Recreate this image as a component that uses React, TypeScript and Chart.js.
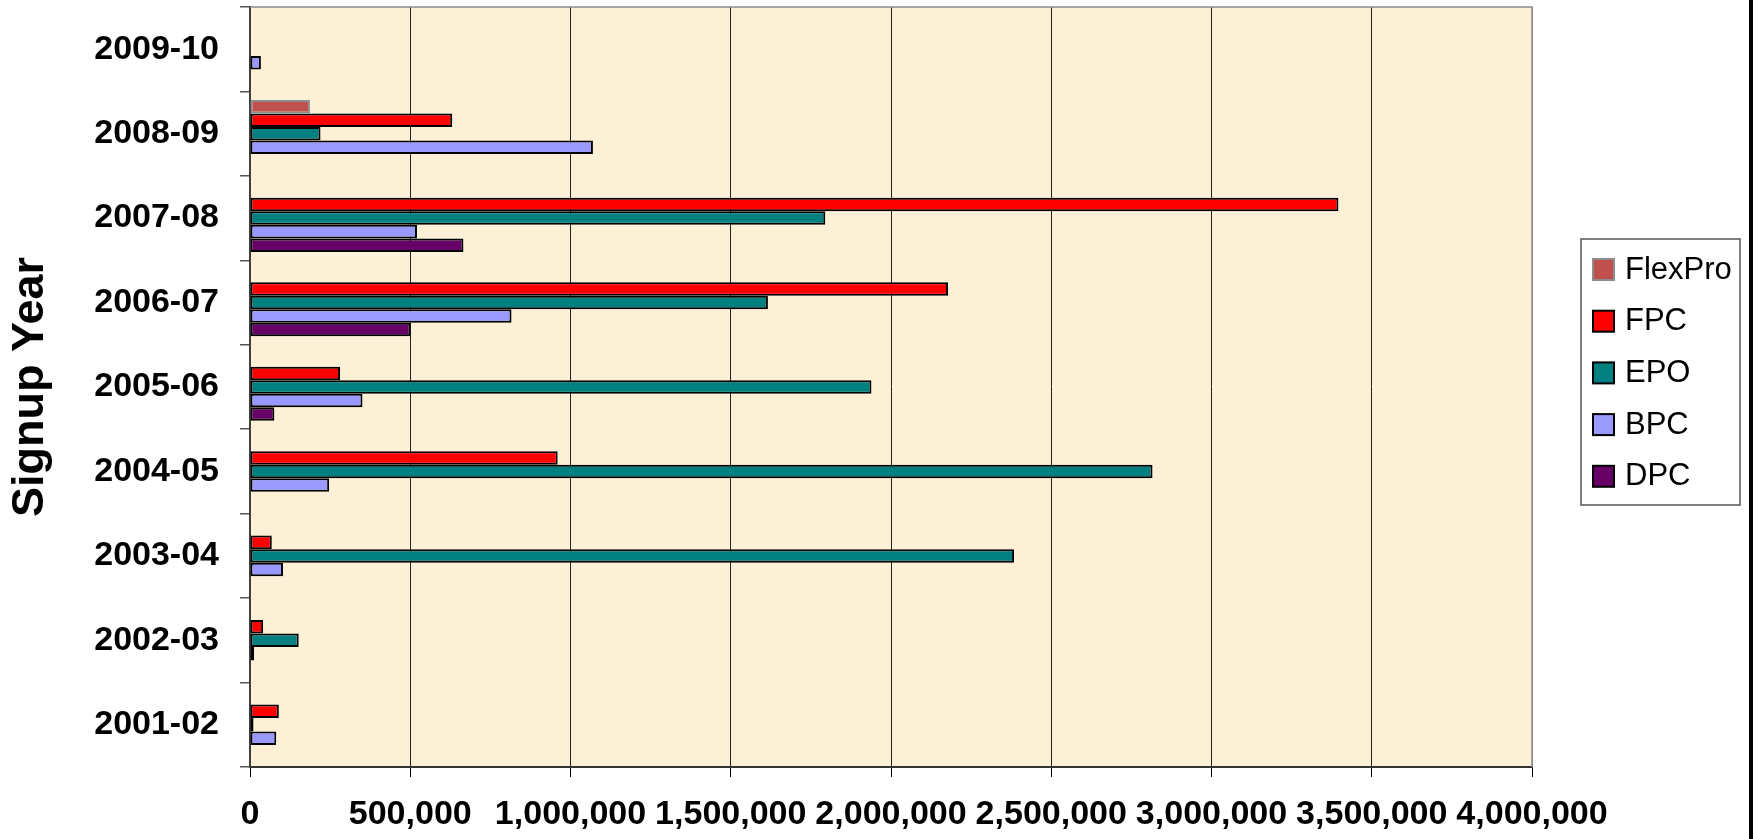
import React, { useEffect, useRef } from 'react';
import { Chart, registerables } from 'chart.js';

Chart.register(...registerables);

// ---- data ----
const categories = ['2009-10', '2008-09', '2007-08', '2006-07', '2005-06', '2004-05', '2003-04', '2002-03', '2001-02'];
const seriesNames = ['FlexPro', 'FPC', 'EPO', 'BPC', 'DPC'];
const flexProValues = [null, 187000, null, null, null, null, null, null, null];
const fpcValues = [null, 631000, 3396000, 2178000, 281000, 960000, 68000, 41000, 90000];
const epoValues = [null, 220000, 1795000, 1616000, 1939000, 2816000, 2384000, 152000, 11000];
const bpcValues = [34000, 1070000, 521000, 816000, 351000, 247000, 103000, 13000, 82000];
const dpcValues = [null, null, 666000, 501000, 76000, null, null, null, null];
const xMin = 0;
const xMax = 4000000;
const xStep = 500000;
const yTitle = 'Signup Year';

// ---- styles ----
const fills = ['#C0504D', '#FF0000', '#008080', '#9999FF', '#660066'];
const borders = ['#8C8C8C', '#000000', '#000000', '#000000', '#000000'];
const FONT = "'Liberation Sans', Arial, Helvetica, sans-serif";

const bgPlugin = {
  id: 'plotBg',
  beforeDraw(chart: any) {
    const { ctx, chartArea: a } = chart;
    ctx.save();
    ctx.fillStyle = '#ffffff';
    ctx.fillRect(0, 0, chart.width, chart.height);
    ctx.fillStyle = '#FCF0D6';
    ctx.fillRect(a.left, a.top, a.right - a.left, a.bottom - a.top);
    ctx.restore();
  },
  beforeDatasetsDraw(chart: any) {
    const { ctx, chartArea: a } = chart;
    ctx.save();
    ctx.strokeStyle = '#8A8A8A';
    ctx.lineWidth = 1.5;
    ctx.beginPath();
    ctx.moveTo(a.left, a.top);
    ctx.lineTo(a.right, a.top);
    ctx.lineTo(a.right, a.bottom);
    ctx.stroke();
    ctx.restore();
  },
  afterDraw(chart: any) {
    const { ctx } = chart;
    ctx.save();
    // legend box
    const x0 = 1581, y0 = 239, w = 159, h = 266;
    ctx.fillStyle = '#ffffff';
    ctx.fillRect(x0, y0, w, h);
    ctx.strokeStyle = '#555555';
    ctx.lineWidth = 1.5;
    ctx.strokeRect(x0, y0, w, h);
    chart.data.datasets.forEach((ds: any, i: number) => {
      const cy = y0 + 30 + i * 51.7;
      ctx.fillStyle = ds.backgroundColor;
      ctx.fillRect(x0 + 12, cy - 10, 21, 21);
      ctx.strokeStyle = ds.borderColor;
      ctx.lineWidth = 2;
      ctx.strokeRect(x0 + 12, cy - 10, 21, 21);
      ctx.fillStyle = '#000000';
      ctx.font = `31px ${FONT}`;
      ctx.textAlign = 'left';
      ctx.textBaseline = 'middle';
      ctx.fillText(ds.label, x0 + 44, cy + 1);
    });
    // right edge strip
    ctx.fillStyle = '#000000';
    ctx.fillRect(chart.width - 4, 0, 4, chart.height);
    ctx.restore();
  },
};

export default function App() {
  const ref = useRef<HTMLCanvasElement | null>(null);

  useEffect(() => {
    document.body.style.margin = '0';
    const values = [flexProValues, fpcValues, epoValues, bpcValues, dpcValues];
    const chart = new Chart(ref.current as HTMLCanvasElement, {
      type: 'bar',
      data: {
        labels: categories,
        datasets: seriesNames.map((name, i) => ({
          label: name,
          data: values[i] as any,
          backgroundColor: fills[i],
          borderColor: borders[i],
          borderWidth: 2,
          borderSkipped: false,
          categoryPercentage: 0.8,
          barPercentage: 1.0,
        })),
      },
      options: {
        indexAxis: 'y',
        animation: false,
        responsive: false,
        devicePixelRatio: 1,
        layout: { padding: { top: 7, right: 221, bottom: 0, left: 0 } },
        plugins: {
          legend: { display: false },
          tooltip: { enabled: false },
        },
        scales: {
          x: {
            type: 'linear',
            min: xMin,
            max: xMax,
            grid: {
              color: (c: any) => (c.tick && c.tick.value === xMax ? '#8A8A8A' : '#222222'),
              lineWidth: 1,
              tickColor: '#000000',
              tickLength: 10,
            },
            border: { display: true, color: '#333333', width: 2 },
            ticks: {
              stepSize: xStep,
              padding: 17,
              maxRotation: 0,
              minRotation: 0,
              autoSkip: false,
              color: '#000000',
              font: { family: FONT, size: 34, weight: 'bold' },
              callback: (v: any) => Number(v).toLocaleString('en-US'),
            },
            afterFit: (s: any) => {
              s.height = 72;
              s.paddingLeft = 0;
              s.paddingRight = 0;
            },
          },
          y: {
            type: 'category',
            grid: {
              display: true,
              drawOnChartArea: false,
              drawTicks: true,
              tickLength: 10,
              color: '#555555',
              lineWidth: 1.5,
              offset: true,
            },
            border: { display: true, color: '#404040', width: 2 },
            ticks: {
              padding: 21,
              color: '#000000',
              font: { family: FONT, size: 34, weight: 'bold' },
            },
            title: {
              display: true,
              text: yTitle,
              color: '#000000',
              font: { family: FONT, size: 45, weight: 'bold' },
              padding: { top: 4, bottom: 0 },
            },
            afterFit: (s: any) => {
              s.width = 250;
              s.paddingTop = 0;
              s.paddingBottom = 0;
            },
          },
        },
      },
      plugins: [bgPlugin],
    } as any);
    return () => chart.destroy();
  }, []);

  return (
    <div style={{ position: 'absolute', left: 0, top: 0, width: 1753, height: 839 }}>
      <canvas ref={ref} width={1753} height={839} style={{ display: 'block', width: 1753, height: 839 }} />
    </div>
  );
}
